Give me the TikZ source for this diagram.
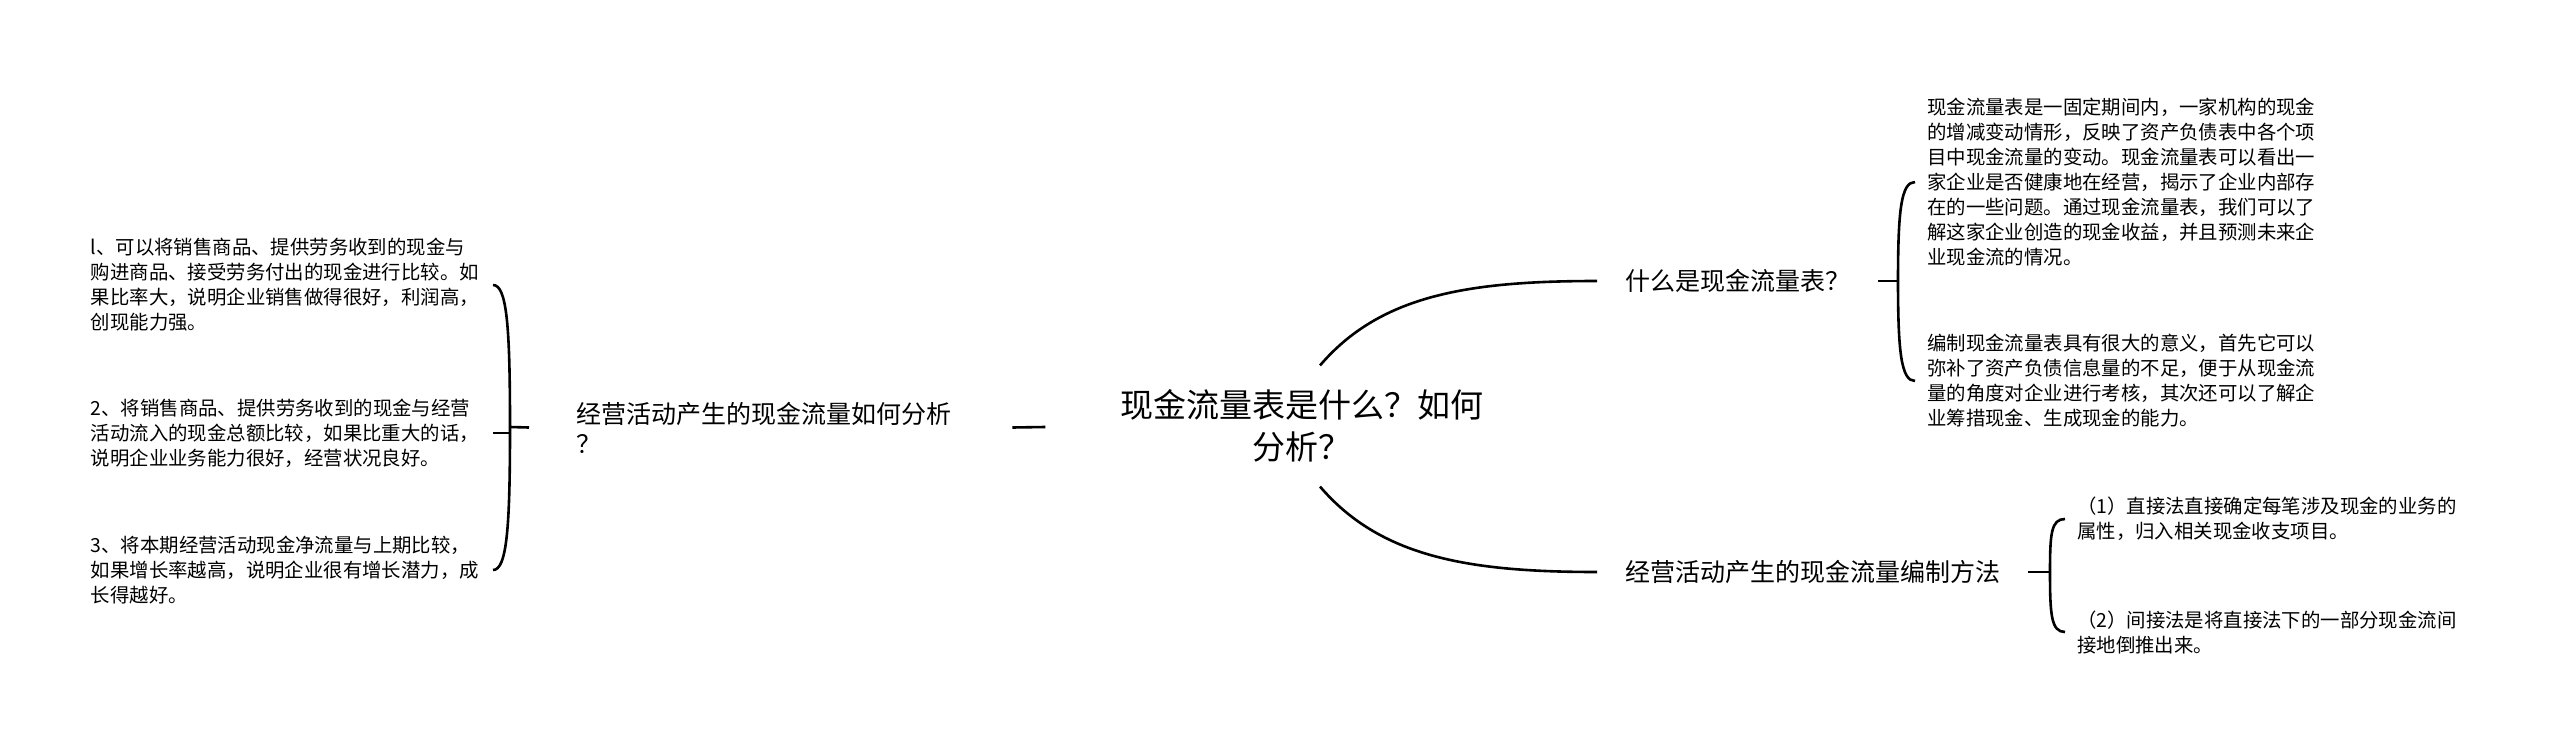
\documentclass[tikz,border=0pt]{standalone}
\usepackage{fontspec}
\setmainfont{Noto Sans CJK SC}
\usetikzlibrary{calc}

\begin{document}
\begin{tikzpicture}[x=1pt,y=-1pt,
  link/.style={line width=2.6pt},
  topic/.style={font=\fontsize{33}{42}\selectfont,align=center,inner xsep=10pt,inner ysep=24pt},
  sub/.style={font=\fontsize{25}{30}\selectfont,align=left,inner xsep=28pt},
  leaf/.style={font=\fontsize{19.4}{25}\selectfont,align=left,text width=390pt,inner xsep=12pt}]
\useasboundingbox (0,0) rectangle (2560,747);

\node[topic] (root) at (1302,426) {现金流量表是什么？如何\\分析？};
\node[sub,anchor=west] (q1) at (1597,281) {什么是现金流量表？};
\node[sub,anchor=west] (q2) at (548,428) {经营活动产生的现金流量如何分析\\？};
\node[sub,anchor=west] (q3) at (1597,572) {经营活动产生的现金流量编制方法};

\node[leaf,anchor=west] (rb1) at (1915,182) {现金流量表是一固定期间内，一家机构的现金\\的增减变动情形，反映了资产负债表中各个项\\目中现金流量的变动。现金流量表可以看出一\\家企业是否健康地在经营，揭示了企业内部存\\在的一些问题。通过现金流量表，我们可以了\\解这家企业创造的现金收益，并且预测未来企\\业现金流的情况。};
\node[leaf,anchor=west] (rb2) at (1915,381) {编制现金流量表具有很大的意义，首先它可以\\弥补了资产负债信息量的不足，便于从现金流\\量的角度对企业进行考核，其次还可以了解企\\业筹措现金、生成现金的能力。};
\node[leaf,anchor=west] (rc1) at (2065,519) {（1）直接法直接确定每笔涉及现金的业务的\\属性，归入相关现金收支项目。};
\node[leaf,anchor=west] (rc2) at (2065,632) {（2）间接法是将直接法下的一部分现金流间\\接地倒推出来。};
\node[leaf,anchor=east] (lb1) at (493,285) {l、可以将销售商品、提供劳务收到的现金与\\购进商品、接受劳务付出的现金进行比较。如\\果比率大，说明企业销售做得很好，利润高，\\创现能力强。};
\node[leaf,anchor=east] (lb2) at (493,433) {2、将销售商品、提供劳务收到的现金与经营\\活动流入的现金总额比较，如果比重大的话，\\说明企业业务能力很好，经营状况良好。};
\node[leaf,anchor=east] (lb3) at (493,570) {3、将本期经营活动现金净流量与上期比较，\\如果增长率越高，说明企业很有增长潜力，成\\长得越好。};

\coordinate (jl) at (510,427);
\coordinate (jr1) at (1898,281);
\coordinate (jr2) at (2050,572);

\draw[link] ([xshift=18pt]root.north) .. controls +(60,-70) and +(-130,0) .. (q1.west);
\draw[link] ([xshift=18pt]root.south) .. controls +(60,70) and +(-130,0) .. (q3.west);
\draw[link,shorten <=65pt,shorten >=33pt] (root.west) -- (q2.east);

\draw[link,shorten <=19pt] (q2.west) -- (jl);
\draw[link] (jl) .. controls +(0,-100) and +(14,0) .. (lb1.east);
\draw[link] (jl) |- (lb2.east);
\draw[link] (jl) .. controls +(0,100) and +(14,0) .. (lb3.east);

\draw[link] (q1.east) -- (jr1);
\draw[link] (jr1) .. controls +(0,-70) and +(-14,0) .. (rb1.west);
\draw[link] (jr1) .. controls +(0,70) and +(-14,0) .. (rb2.west);

\draw[link] (q3.east) -- (jr2);
\draw[link] (jr2) .. controls +(0,-38) and +(-14,0) .. (rc1.west);
\draw[link] (jr2) .. controls +(0,42) and +(-14,0) .. (rc2.west);
\end{tikzpicture}
\end{document}
